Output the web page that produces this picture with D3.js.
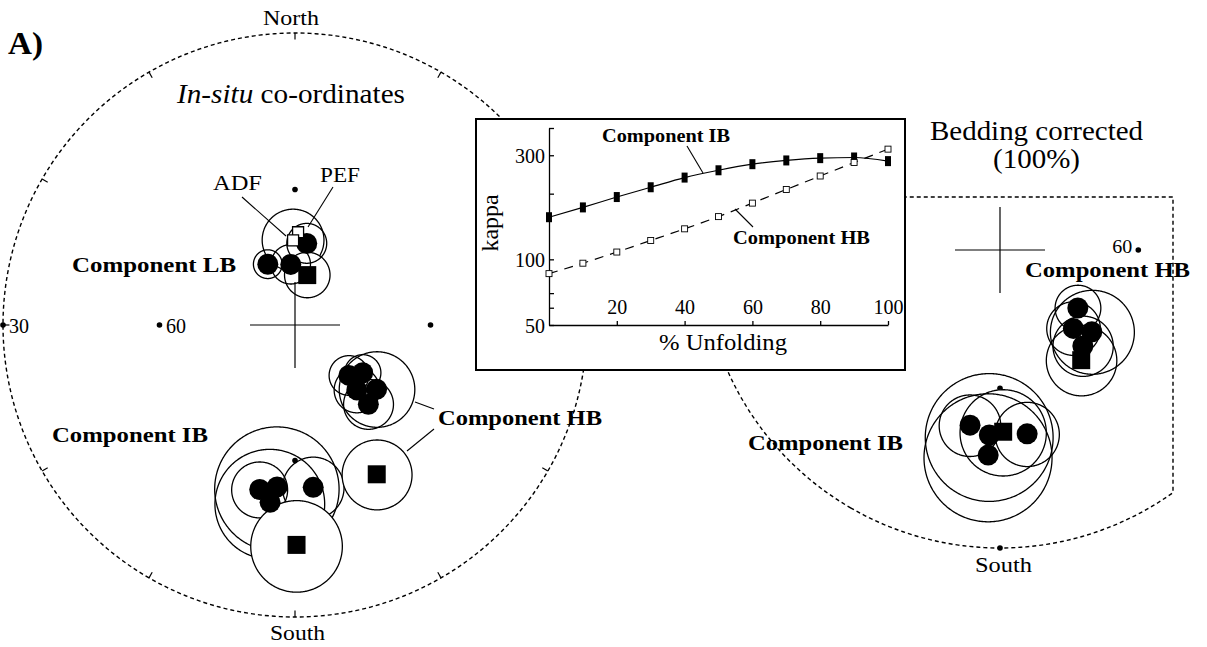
<!DOCTYPE html>
<html><head><meta charset="utf-8">
<script src="https://cdn.jsdelivr.net/npm/d3@7"></script>
<style>
body{margin:0;background:#fff;}
svg{display:block;font-family:"Liberation Serif","Times New Roman",serif;}
</style></head><body>
<svg id="chart" width="1207" height="647"></svg>
<script>
// ---------------- DATA ----------------
// Inset: kappa versus % unfolding
const unfolding = [0,10,20,30,40,50,60,70,80,90,100];
const kappaIB = [156,173,193,214,237,256,273,284,291,293,282];
const kappaHB = [86,96,108,122,138,157,181,209,241,278,320];
const kappaTicks = [50,60,70,100,200,300,400];
const kappaLabels = [50,100,300];
const unfoldLabels = [20,40,60,80,100];

// Site means, in-situ co-ordinates: [declination, inclination, a95, symbol]
const insituLB = [
  [1.9, 69.2, 1.0, "open"],      // PEF
  [358.7, 71.0, 6.8, "open"],    // ADF
  [13.8, 78.4, 5.1, "square"],
  [335.9, 75.0, 3.2, "circle"],
  [356.0, 76.3, 4.4, "circle"],
  [8.2, 71.5, 4.4, "circle"]
];
const insituIB = [
  [186.3, 54.3, 12.7, "circle"],
  [188.0, 51.0, 11.0, "circle"],
  [192.1, 53.2, 5.7, "circle"],
  [173.6, 54.2, 6.3, "circle"],
  [179.6, 43.0, 8.7, "square"]
];
const insituHB = [
  [128.2, 66.8, 8.2, "circle"],
  [133.1, 73.4, 4.4, "circle"],
  [136.4, 69.9, 5.0, "circle"],
  [125.2, 71.4, 4.0, "circle"],
  [137.2, 65.9, 5.4, "circle"],
  [151.3, 52.8, 7.1, "square"]
];
// Site means, bedding corrected (100%)
const tiltHB = [
  [143.6, 60.3, 7.3, "square"],
  [131.7, 63.2, 8.8, "circle"],
  [136.9, 66.5, 5.7, "circle"],
  [126.7, 68.7, 4.9, "circle"],
  [139.2, 62.4, 6.3, "circle"]
];
const tiltIB = [
  [179.0, 51.2, 8.5, "square"],
  [183.3, 50.5, 12.5, "circle"],
  [183.3, 46.6, 12.2, "circle"],
  [189.7, 52.0, 6.1, "circle"],
  [171.6, 50.4, 6.3, "circle"]
];
// Net furniture
const netTickDecs = [0,30,60,90,120,150,180,210,240,270,300,330];
const refDotDecs = [0,90,180,270];
const primitiveInc = 30;
const refInc = 60;

// ---------------- DRAWING ----------------
const svg = d3.select("#chart");

function makeNet(cx, cy, R){
  const K = R / Math.tan(Math.PI/6);
  const proj = d3.geoStereographic().rotate([0,-90]).scale(K).translate([cx,cy]).precision(0.1);
  return {proj, pt:(dec,inc)=>proj([180-dec, inc]), path:d3.geoPath(proj), cx, cy, R};
}
const leftNet = makeNet(295,325,292);
const rightNet = makeNet(1000,250,298);
const circleGen = d3.geoCircle().precision(1);

function label(g, txt, x, y, size, o={}){
  const t = g.append("text").attr("x",x).attr("y",y).attr("font-size",size).attr("fill","#000");
  if (o.bold) t.attr("font-weight","bold");
  if (o.anchor) t.attr("text-anchor",o.anchor);
  if (o.w) t.attr("textLength",o.w).attr("lengthAdjust","spacingAndGlyphs");
  if (txt !== null) t.text(txt);
  return t;
}

function drawPrimitive(g, net, ticks){
  g.append("path")
    .attr("d", net.path(circleGen.center([0,90]).radius(90-primitiveInc)()))
    .attr("fill","none").attr("stroke","#000").attr("stroke-width",1.4)
    .attr("stroke-dasharray","4,3");
  if (ticks){
    g.append("g").selectAll("line").data(netTickDecs).join("line")
      .attr("x1",d=>net.pt(d,primitiveInc)[0]).attr("y1",d=>net.pt(d,primitiveInc)[1])
      .attr("x2",d=>net.pt(d,primitiveInc+1.1)[0]).attr("y2",d=>net.pt(d,primitiveInc+1.1)[1])
      .attr("stroke","#000").attr("stroke-width",1.2);
  }
}
function drawRefDots(g, net){
  g.append("g").selectAll("circle").data(refDotDecs).join("circle")
    .attr("cx",d=>net.pt(d,refInc)[0]).attr("cy",d=>net.pt(d,refInc)[1])
    .attr("r",2.8).attr("fill","#000");
}
function drawCircles(g, net, groups){
  g.append("g").selectAll("path").data(groups.flat()).join("path")
    .attr("d", d => net.path(circleGen.center([180-d[0], d[1]]).radius(d[2])()))
    .attr("fill", d => d[3]==="circle" ? "none" : "#fff")
    .attr("stroke","#000").attr("stroke-width",1.3);
}
const symGen = d3.symbol();
function drawSymbols(g, net, groups){
  const all = groups.flat().slice().sort((a,b)=>(a[3]==="open")-(b[3]==="open"));
  g.append("g").selectAll("path").data(all).join("path")
    .attr("transform", d => { const p = net.pt(d[0],d[1]); return `translate(${p[0]},${p[1]})`; })
    .attr("d", d => d[3]==="circle" ? symGen.type(d3.symbolCircle).size(Math.PI*10.5*10.5)()
                  : d[3]==="square" ? symGen.type(d3.symbolSquare).size(18*18)()
                  : symGen.type(d3.symbolSquare).size(11*11)())
    .attr("fill", d => d[3]==="open" ? "#fff" : "#000")
    .attr("stroke","#000").attr("stroke-width", d => d[3]==="open" ? 1.3 : 0);
}
function drawCross(g, net){
  const [x,y] = net.pt(0,90);
  g.append("line").attr("x1",x-45).attr("x2",x+45).attr("y1",y).attr("y2",y).attr("stroke","#000").attr("stroke-width",1.2);
  g.append("line").attr("x1",x).attr("x2",x).attr("y1",y-43).attr("y2",y+43).attr("stroke","#000").attr("stroke-width",1.2);
}
function line(g, x1,y1,x2,y2,w=1.1){
  g.append("line").attr("x1",x1).attr("y1",y1).attr("x2",x2).attr("y2",y2).attr("stroke","#000").attr("stroke-width",w);
}

// ----- Left net: in-situ -----
const gL = svg.append("g");
drawPrimitive(gL, leftNet, true);
drawRefDots(gL, leftNet);
{ const p = leftNet.pt(270, primitiveInc);
  gL.append("circle").attr("cx",p[0]).attr("cy",p[1]).attr("r",2.8).attr("fill","#000"); }
drawCircles(gL, leftNet, [insituLB, insituIB, insituHB]);
drawCross(gL, leftNet);
drawSymbols(gL, leftNet, [insituLB, insituIB, insituHB]);

label(gL, "A)", 8, 54, 31, {bold:true, w:35});
label(gL, "North", 263, 25, 22, {w:56});
label(gL, "South", 270, 640, 22, {w:55});
{ const t = label(gL, null, 177, 103, 27, {w:228});
  t.append("tspan").attr("font-style","italic").text("In-situ");
  t.append("tspan").text(" co-ordinates"); }
{ const p30 = leftNet.pt(270, primitiveInc), p60 = leftNet.pt(270, refInc);
  label(gL, "30", p30[0]+6, p30[1]+8, 21, {w:20});
  label(gL, "60", p60[0]+6.5, p60[1]+8, 21, {w:20}); }
label(gL, "ADF", 213, 190, 21, {w:49});
label(gL, "PEF", 320, 182, 21, {w:40});
line(gL, 242,197, 286,236);
line(gL, 333,187, 308,227);
label(gL, "Component LB", 72, 272, 22, {bold:true, w:164});
label(gL, "Component IB", 52, 442, 22, {bold:true, w:156});
label(gL, "Component HB", 438, 425, 22, {bold:true, w:164});
line(gL, 415,402, 434,409);
line(gL, 407,451, 434,429);

// ----- Right net: bedding corrected -----
const gR = svg.append("g");
const clipX = 1173, clipY = 197;
svg.append("defs").append("clipPath").attr("id","rclip")
  .append("rect").attr("x",0).attr("y",clipY).attr("width",clipX).attr("height",647-clipY);
const gRc = gR.append("g").attr("clip-path","url(#rclip)");
drawPrimitive(gRc, rightNet, false);
drawRefDots(gRc, rightNet);
{ const p = rightNet.pt(180, primitiveInc);
  gRc.append("circle").attr("cx",p[0]).attr("cy",p[1]).attr("r",2.8).attr("fill","#000"); }
{ // straight edges of the clipped net
  const R = rightNet.R, cx = rightNet.cx, cy = rightNet.cy;
  const yEdge = cy + Math.sqrt(R*R - (clipX-cx)*(clipX-cx));
  const xEdge = cx - Math.sqrt(R*R - (clipY-cy)*(clipY-cy));
  gR.append("path").attr("d",`M${xEdge},${clipY}H${clipX}V${yEdge}`)
    .attr("fill","none").attr("stroke","#000").attr("stroke-width",1.4).attr("stroke-dasharray","4,3");
}
drawCircles(gR, rightNet, [tiltIB, tiltHB]);
drawCross(gR, rightNet);
drawSymbols(gR, rightNet, [tiltIB, tiltHB]);
label(gR, "Bedding corrected", 930, 140, 27, {w:213});
label(gR, "(100%)", 993, 168, 27, {w:87});
{ const p60 = rightNet.pt(90, refInc);
  label(gR, "60", p60[0]-6, p60[1]+3, 18, {w:20, anchor:"end"}); }
label(gR, "Component HB", 1025, 277, 20, {bold:true, w:165});
label(gR, "Component IB", 748, 450, 22, {bold:true, w:155});
label(gR, "South", 975, 572, 22, {w:57});

// ----- Inset: kappa vs % unfolding -----
const gI = svg.append("g");
gI.append("rect").attr("x",476).attr("y",119).attr("width",429).attr("height",251)
  .attr("fill","#fff").attr("stroke","#000").attr("stroke-width",2);
const ix = d3.scaleLinear().domain([0,100]).range([549,888]);
const iy = d3.scaleLog().domain([50,400]).range([325,128]);

const yAx = gI.append("g").attr("transform","translate(549,0)")
  .call(d3.axisLeft(iy).tickValues(kappaTicks).tickSizeInner(-5).tickSizeOuter(0).tickPadding(4)
        .tickFormat(d => kappaLabels.includes(d) ? d : ""));
const xAx = gI.append("g").attr("transform","translate(0,325)")
  .call(d3.axisTop(ix).tickValues(unfoldLabels).tickSizeInner(4).tickSizeOuter(0).tickPadding(7)
        .tickFormat(d => d));
[yAx, xAx].forEach(a => {
  a.attr("font-family",null).attr("font-size",null);
  a.selectAll("path,line").attr("stroke","#000").attr("stroke-width",1.3);
  a.selectAll("text").attr("font-size",20).attr("fill","#000");
});
yAx.selectAll("text").attr("dy","0.36em");

const lineGen = d3.line().curve(d3.curveMonotoneX);
gI.append("path").attr("d", lineGen(unfolding.map((u,i)=>[ix(u), iy(kappaIB[i])])))
  .attr("fill","none").attr("stroke","#000").attr("stroke-width",1.2);
gI.append("path").attr("d", lineGen(unfolding.map((u,i)=>[ix(u), iy(kappaHB[i])])))
  .attr("fill","none").attr("stroke","#000").attr("stroke-width",1.2).attr("stroke-dasharray","9,7");
gI.append("g").selectAll("rect").data(unfolding).join("rect")
  .attr("x",d=>ix(d)-3).attr("y",(d,i)=>iy(kappaIB[i])-5).attr("width",6).attr("height",10).attr("fill","#000");
gI.append("g").selectAll("rect").data(unfolding).join("rect")
  .attr("x",d=>ix(d)-3).attr("y",(d,i)=>iy(kappaHB[i])-3).attr("width",6).attr("height",6)
  .attr("fill","#fff").attr("stroke","#000").attr("stroke-width",0.9);

label(gI, "Component IB", 602, 142, 19.5, {bold:true, w:128});
line(gI, 687,146, 703,173);
label(gI, "Component HB", 733, 244, 19.5, {bold:true, w:137});
line(gI, 735,209, 753,227);
label(gI, "% Unfolding", 723, 350, 23, {anchor:"middle", w:128});
label(gI, "kappa", 0, 0, 24, {anchor:"middle", w:57}).attr("transform","translate(498,223) rotate(-90)");
</script>
</body></html>
